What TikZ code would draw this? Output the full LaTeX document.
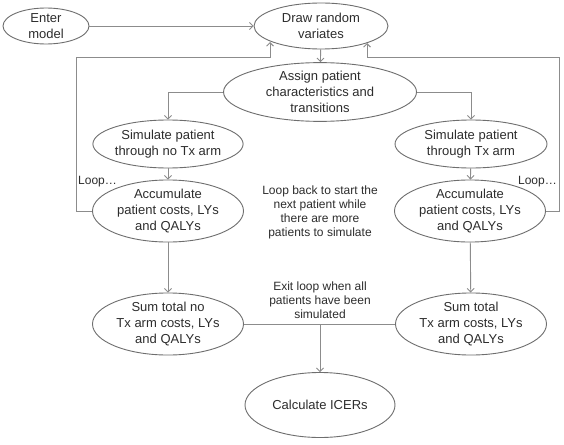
\documentclass[tikz,border=0pt]{standalone}
\usepackage{fontspec}
\setmainfont{Liberation Sans}
\usetikzlibrary{shapes.geometric,arrows.meta}
\definecolor{edgecol}{RGB}{140,140,140}
\definecolor{bordcol}{RGB}{110,110,110}
\definecolor{txtcol}{RGB}{45,45,45}
\tikzset{
  oval/.style={ellipse,draw=bordcol,line width=0.9pt,inner sep=0pt,align=center,text=txtcol,
    font=\fontsize{13}{16}\selectfont},
  note/.style={align=center,text=txtcol,inner sep=0pt,font=\fontsize{12}{14}\selectfont},
  conn/.style={draw=edgecol,line width=0.9pt},
  arr/.style={conn,-{Straight Barb[length=3.5pt,width=7pt]}}
}
\begin{document}
\begin{tikzpicture}[x=1pt,y=-1pt]
\useasboundingbox[fill=white] (0,0) rectangle (564,444);
\node[oval,minimum width=86pt,minimum height=36pt] (enter) at (46,26) {Enter\\model};
\node[oval,minimum width=134pt,minimum height=46pt] (draw) at (321,26) {Draw random\\variates};
\node[oval,minimum width=193pt,minimum height=55pt] (assign) at (320,92) {Assign patient\\characteristics and\\transitions};
\node[oval,minimum width=150pt,minimum height=48pt] (simL) at (168,144) {Simulate patient\\through no Tx arm};
\node[oval,minimum width=152pt,minimum height=48pt] (simR) at (471,144) {Simulate patient\\through Tx arm};
\node[oval,minimum width=151pt,minimum height=53pt] (accL) at (168,211) {Accumulate\\patient costs, LYs\\and QALYs};
\node[oval,minimum width=151pt,minimum height=53pt] (accR) at (470,211) {Accumulate\\patient costs, LYs\\and QALYs};
\node[oval,minimum width=151pt,minimum height=53pt] (sumL) at (168,324) {Sum total no\\Tx arm costs, LYs\\and QALYs};
\node[oval,minimum width=151pt,minimum height=53pt] (sumR) at (471,324) {Sum total\\Tx arm costs, LYs\\and QALYs};
\node[oval,minimum width=150pt,minimum height=65pt] (calc) at (320,405) {Calculate ICERs};
\node[note,anchor=west] (loopL) at (78,182) {Loop…};
\node[note,anchor=east] (loopR) at (557,182) {Loop…};
\node[note] (midtext) at (320,212) {Loop back to start the\\next patient while\\there are more\\patients to simulate};
\node[note] (exittext) at (320,300) {Exit loop when all\\patients have been\\simulated};
\coordinate (lc1) at (76,57);
\coordinate (lc2) at (270,57);
\coordinate (ltip) at (270,42);
\coordinate (rc1) at (559,57);
\coordinate (rc2) at (367,57);
\coordinate (rtip) at (367,43);
\coordinate (join) at (320,324);
\draw[arr] (enter) -- (draw);
\draw[arr] (draw) -- (assign);
\draw[arr] (assign.west) -| (simL.north);
\draw[arr] (assign.east) -| (simR.north);
\draw[arr] (simL) -- (accL);
\draw[arr] (simR) -- (accR);
\draw[arr] (accL) -- (sumL);
\draw[arr] (accR) -- (sumR);
\draw[arr] (accL.west) -| (lc1) -- (lc2) -- (ltip);
\draw[arr] (accR.east) -| (rc1) -- (rc2) -- (rtip);
\draw[conn] (sumL.east) -- (sumR.west);
\draw[arr] (join) -- (calc.north);
\end{tikzpicture}
\end{document}
